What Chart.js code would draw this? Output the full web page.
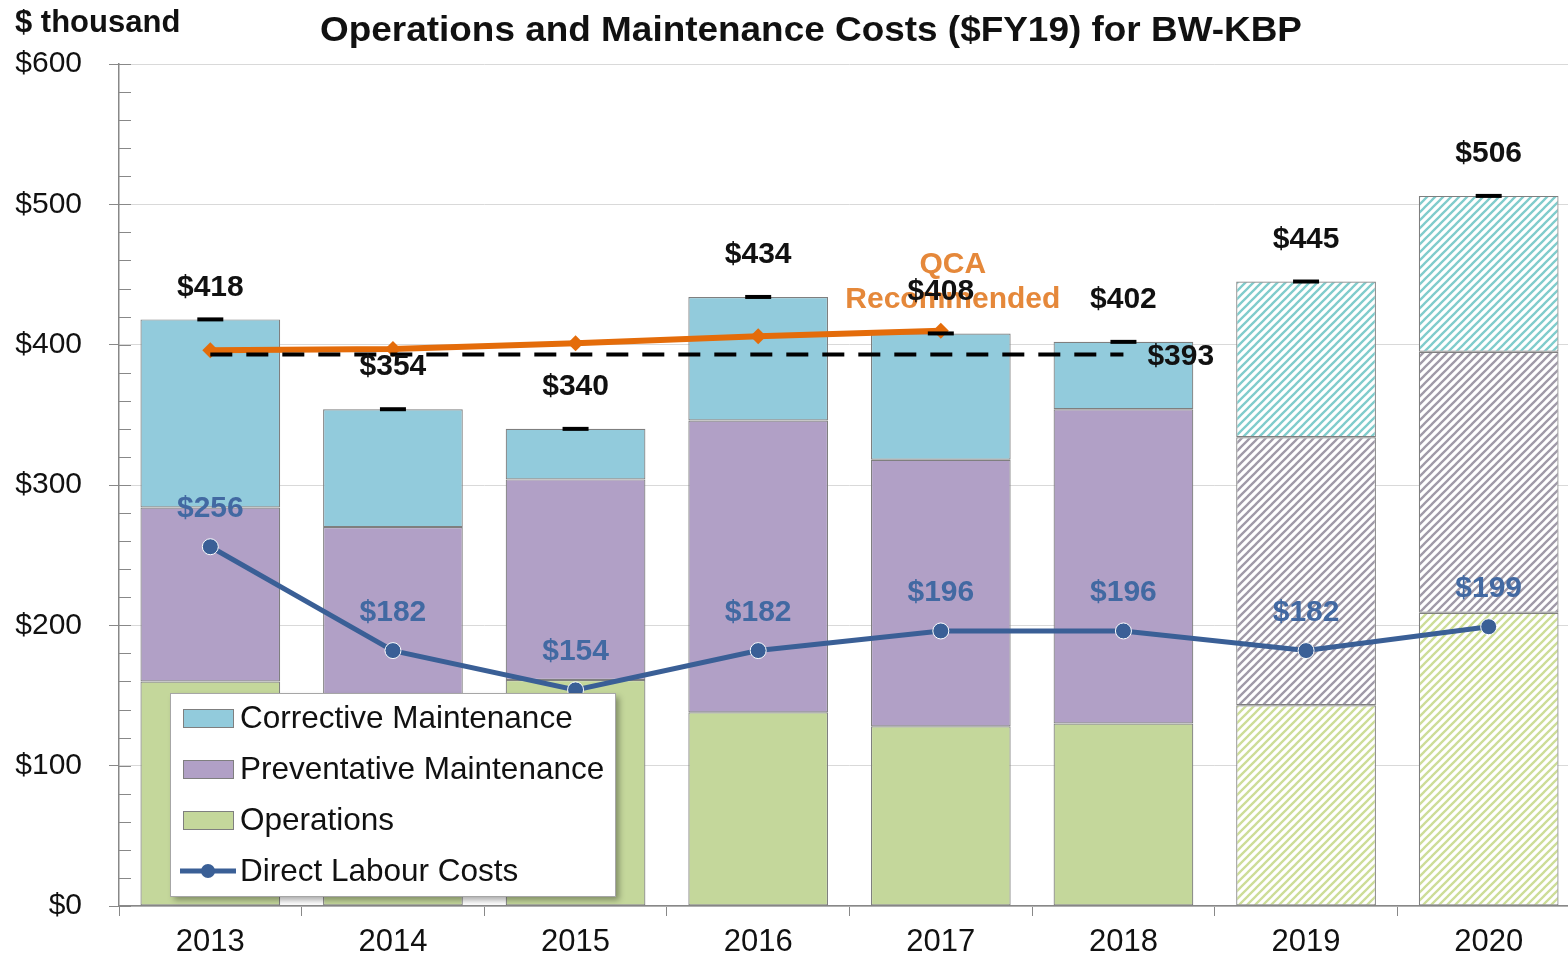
<!DOCTYPE html>
<html>
<head>
<meta charset="utf-8">
<script src="https://cdn.jsdelivr.net/npm/chart.js@4.4.0/dist/chart.umd.min.js"></script>
<style>
  html, body { margin: 0; padding: 0; background: #fff; overflow: hidden; }
  #om-chart { position: absolute; left: 0; top: 0; }
</style>
</head>
<body>
<canvas id="om-chart" width="1582" height="957"></canvas>
<script>
const years = ['2013', '2014', '2015', '2016', '2017', '2018', '2019', '2020'];
const forecastYears = ['2019', '2020'];
const operations = [160, 145, 161, 138, 128, 130, 143, 209];
const preventative = [124, 125, 143, 208, 190, 224, 191, 186];
const corrective = [134, 84, 36, 88, 90, 48, 111, 111];
const totals = [418, 354, 340, 434, 408, 402, 445, 506];
const directLabour = [256, 182, 154, 182, 196, 196, 182, 199];
const qcaRecommended = [396, 397, 401, 406, 410, null, null, null];
const benchmark = [393, 393, 393, 393, 393, 393, null, null];
const yTicks = [0, 100, 200, 300, 400, 500, 600];

const FONT = '"Liberation Sans", Arial, sans-serif';

// diagonal hatch used for the forecast years
function hatch(color) {
  const size = 8;
  const c = document.createElement('canvas');
  c.width = size; c.height = size;
  const g = c.getContext('2d');
  g.fillStyle = '#fff';
  g.fillRect(0, 0, size, size);
  g.strokeStyle = color;
  g.lineWidth = 2.3;
  g.beginPath();
  g.moveTo(-1, size + 1); g.lineTo(size + 1, -1);
  g.moveTo(-1, 1); g.lineTo(1, -1);
  g.moveTo(size - 1, size + 1); g.lineTo(size + 1, size - 1);
  g.stroke();
  return g.createPattern(c, 'repeat');
}

const colors = {
  corrective: '#92cbdc',
  preventative: '#b1a0c6',
  operations: '#c4d79b',
  labour: '#3a5f96',
  qca: '#e46c0a'
};
const hatches = {
  corrective: hatch('#80cccc'),
  preventative: hatch('#a09aa8'),
  operations: hatch('#cddd98')
};

function barFill(key) {
  return (c) => forecastYears.includes(years[c.dataIndex]) ? hatches[key] : colors[key];
}

const labelsPlugin = {
  id: 'labels',
  afterDatasetsDraw(chart) {
    const { ctx } = chart;
    ctx.save();
    ctx.textAlign = 'center';
    ctx.textBaseline = 'middle';
    ctx.font = 'bold 30px ' + FONT;

    // QCA label (drawn first so the totals sit over it)
    const q = chart.getDatasetMeta(4).data[4];
    ctx.fillStyle = '#e5883a';
    ctx.fillText('QCA', q.x + 12, q.y - 66);
    ctx.fillText('Recommended', q.x + 12, q.y - 31);

    // totals above the bars
    ctx.fillStyle = '#111';
    chart.getDatasetMeta(6).data.forEach((pt, i) => {
      ctx.fillText('$' + totals[i], pt.x, pt.y - (i === 0 ? 32 : 42));
    });

    // direct labour values
    ctx.fillStyle = '#4269a2';
    chart.getDatasetMeta(3).data.forEach((pt, i) => {
      ctx.fillText('$' + directLabour[i], pt.x, pt.y - 38);
    });

    // benchmark label
    const last = chart.getDatasetMeta(5).data[5];
    ctx.fillStyle = '#111';
    ctx.textAlign = 'left';
    ctx.fillText('$' + benchmark[5], last.x + 24, last.y + 2);
    ctx.restore();
  },
  afterDraw(chart) {
    const { ctx, chartArea } = chart;
    const y = chart.scales.y;
    ctx.save();

    // minor ticks inside the y axis
    ctx.strokeStyle = '#888';
    ctx.lineWidth = 1;
    for (let v = 0; v <= 600; v += 20) {
      const py = Math.round(y.getPixelForValue(v)) + 0.5;
      ctx.beginPath();
      ctx.moveTo(chartArea.left, py);
      ctx.lineTo(chartArea.left + 12, py);
      ctx.stroke();
    }

    // titles
    ctx.fillStyle = '#111';
    ctx.textBaseline = 'middle';
    ctx.textAlign = 'left';
    ctx.font = 'bold 31px ' + FONT;
    ctx.fillText('$ thousand', 15, 23);
    const title = 'Operations and Maintenance Costs ($FY19) for BW-KBP';
    ctx.font = 'bold 35px ' + FONT;
    const w = ctx.measureText(title).width;
    ctx.translate(320, 31);
    ctx.scale(982 / w, 1);
    ctx.fillText(title, 0, 0);
    ctx.restore();

    // legend box
    ctx.save();
    const lx = chartArea.left + 51, ly = chartArea.bottom - 213;
    const lw = 445, lh = 203;
    ctx.shadowColor = 'rgba(0,0,0,0.35)';
    ctx.shadowBlur = 6;
    ctx.shadowOffsetX = 4;
    ctx.shadowOffsetY = 4;
    ctx.fillStyle = '#fff';
    ctx.fillRect(lx, ly, lw, lh);
    ctx.shadowColor = 'transparent';
    ctx.strokeStyle = '#a6a6a6';
    ctx.lineWidth = 1;
    ctx.strokeRect(lx + 0.5, ly + 0.5, lw, lh);

    const items = [
      { text: 'Corrective Maintenance', fill: colors.corrective },
      { text: 'Preventative Maintenance', fill: colors.preventative },
      { text: 'Operations', fill: colors.operations },
      { text: 'Direct Labour Costs', line: colors.labour }
    ];
    ctx.font = '31.5px ' + FONT;
    ctx.textBaseline = 'middle';
    ctx.textAlign = 'left';
    items.forEach((it, i) => {
      const cy = ly + 25 + i * 51;
      if (it.fill) {
        ctx.fillStyle = it.fill;
        ctx.fillRect(lx + 13, cy - 9, 50, 18);
        ctx.strokeStyle = '#7f7f7f';
        ctx.lineWidth = 1;
        ctx.strokeRect(lx + 13.5, cy - 8.5, 50, 18);
      } else {
        ctx.strokeStyle = it.line;
        ctx.lineWidth = 5;
        ctx.beginPath();
        ctx.moveTo(lx + 10, cy);
        ctx.lineTo(lx + 66, cy);
        ctx.stroke();
        ctx.fillStyle = it.line;
        ctx.beginPath();
        ctx.arc(lx + 38, cy, 7, 0, Math.PI * 2);
        ctx.fill();
      }
      ctx.fillStyle = '#111';
      ctx.fillText(it.text, lx + 70, cy + 1);
    });
    ctx.restore();
  }
};

const barBase = {
  type: 'bar',
  stack: 'cost',
  borderColor: '#7f7f7f',
  borderWidth: 1.2,
  borderSkipped: false,
  barPercentage: 0.765,
  categoryPercentage: 1,
  order: 5
};

new Chart(document.getElementById('om-chart'), {
  data: {
    labels: years,
    datasets: [
      { ...barBase, label: 'Operations', data: operations, backgroundColor: barFill('operations') },
      { ...barBase, label: 'Preventative Maintenance', data: preventative, backgroundColor: barFill('preventative') },
      { ...barBase, label: 'Corrective Maintenance', data: corrective, backgroundColor: barFill('corrective') },
      {
        type: 'line', label: 'Direct Labour Costs', data: directLabour, stack: 'labour',
        borderColor: colors.labour, backgroundColor: colors.labour,
        borderWidth: 5, pointRadius: 8, pointBorderColor: '#fff', pointBorderWidth: 1,
        tension: 0, order: 0
      },
      {
        type: 'line', label: 'QCA Recommended', data: qcaRecommended, stack: 'qca',
        borderColor: colors.qca, backgroundColor: colors.qca,
        borderWidth: 6, pointStyle: 'rectRot', pointRadius: 8, pointBorderWidth: 0,
        tension: 0, spanGaps: false, order: 2
      },
      {
        type: 'line', label: 'Benchmark', data: benchmark, stack: 'benchmark',
        borderColor: '#000', borderWidth: 4, borderDash: [22, 14],
        pointRadius: 0, tension: 0, order: 1
      },
      {
        type: 'line', label: 'Total', data: totals, stack: 'total',
        showLine: false, pointStyle: 'line', pointRadius: 13,
        borderColor: '#000', pointBorderWidth: 4, order: 0
      }
    ]
  },
  options: {
    responsive: false,
    animation: false,
    events: [],
    layout: { autoPadding: false, padding: { top: 64, left: 0, right: 2, bottom: 0 } },
    plugins: {
      legend: { display: false },
      tooltip: { enabled: false },
      title: { display: false }
    },
    scales: {
      x: {
        stacked: true,
        offset: true,
        grid: {
          offset: true,
          drawOnChartArea: false,
          tickLength: 10,
          tickColor: '#888'
        },
        border: { color: '#888', width: 1.5 },
        ticks: { color: '#111', font: { family: FONT, size: 31 }, padding: 8 },
        afterFit: (s) => { s.height = 51; s.paddingLeft = 0; s.paddingRight = 0; }
      },
      y: {
        stacked: true,
        min: 0,
        max: 600,
        afterBuildTicks: (s) => { s.ticks = yTicks.map(v => ({ value: v })); },
        grid: { color: '#d9d9d9', lineWidth: 1, tickLength: 10, tickColor: '#888' },
        border: { color: '#888', width: 1.5 },
        ticks: {
          color: '#111',
          font: { family: FONT, size: 30 },
          padding: 27,
          callback: (v) => '$' + v
        },
        afterFit: (s) => { s.width = 119; }
      }
    }
  },
  plugins: [labelsPlugin]
});
</script>
</body>
</html>
